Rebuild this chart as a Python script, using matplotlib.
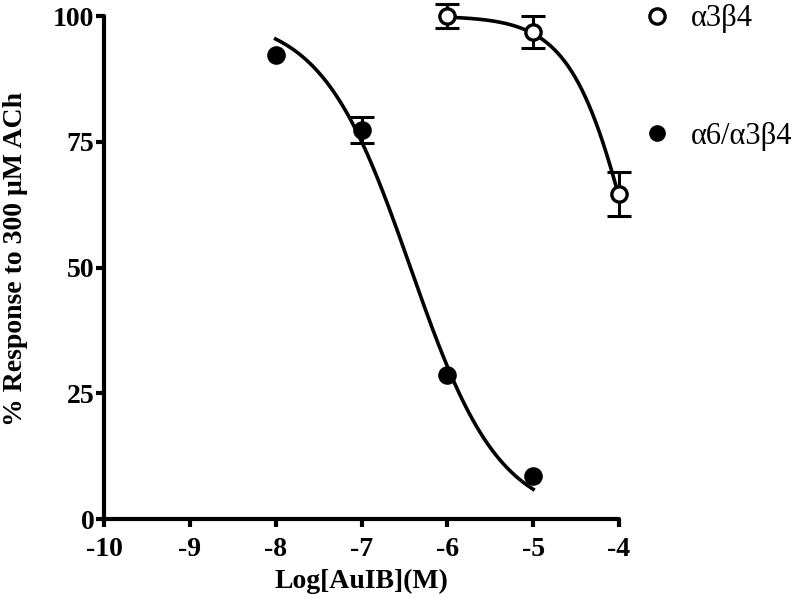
import numpy as np
import matplotlib
matplotlib.use("Agg")
from matplotlib import pyplot as plt
from matplotlib.lines import Line2D

# data
log_conc_a6 = [-8, -7, -6, -5]
resp_a6 = [92.2, 77.3, 28.6, 8.5]
err_a6 = [0.0, 2.6, 0.0, 0.0]

log_conc_a3 = [-6, -5, -4]
resp_a3 = [100.0, 96.8, 64.6]
err_a3 = [2.3, 3.2, 4.4]

# fitted curve parameters (top, bottom, logIC50, hill slope)
fit_a6 = (100.0, 0.0, -6.43, 0.84)
fit_a3 = (100.0, 0.0, -3.79, 1.19)

xticks = [-10, -9, -8, -7, -6, -5, -4]
yticks = [0, 25, 50, 75, 100]


def dose_response(x, top, bottom, logic50, hill):
  return bottom + (top - bottom) / (1 + 10 ** ((x - logic50) * hill))


def draw_points(ax, x, y, err, face):
  # error bars only where they are bigger than zero
  xe = [a for a, e in zip(x, err) if e > 0]
  ye = [b for b, e in zip(y, err) if e > 0]
  ee = [e for e in err if e > 0]
  bars = ax.errorbar(xe, ye, yerr=ee, fmt='none', ecolor='black',
                     capsize=8.5, elinewidth=2.2, capthick=2.2, zorder=3)
  for art in bars.lines[1] + bars.lines[2]:
    art.set_clip_on(False)
  ax.plot(x, y, ls='none', marker='o', color='black', markerfacecolor=face,
          markeredgewidth=2.4, markersize=11, zorder=4, clip_on=False)


plt.rcParams['font.family'] = ['Liberation Serif', 'DejaVu Serif']
plt.rcParams['axes.unicode_minus'] = False

fig = plt.figure(figsize=(7.97, 6.04), dpi=100)
ax = fig.add_axes([0.1305, 0.1407, 0.6462, 0.8328])

# fitted curves
xs = np.linspace(log_conc_a6[0], log_conc_a6[-1], 200)
ax.plot(xs, dose_response(xs, *fit_a6), color='black', lw=2.6, zorder=2)
xs = np.linspace(log_conc_a3[0], log_conc_a3[-1], 200)
ax.plot(xs, dose_response(xs, *fit_a3), color='black', lw=2.6, zorder=2,
        clip_on=False)

draw_points(ax, log_conc_a6, resp_a6, err_a6, 'black')
draw_points(ax, log_conc_a3, resp_a3, err_a3, 'white')

ax.set_xlim(-10, -4)
ax.set_ylim(0, 100)
ax.set_xticks(xticks)
ax.set_yticks(yticks)

for side in ['top', 'right']:
  ax.spines[side].set_visible(False)
for side in ['left', 'bottom']:
  ax.spines[side].set_linewidth(3)
  ax.spines[side].set_capstyle('round')
ax.tick_params(width=3, length=6, labelsize=20)
ax.tick_params(axis='y', pad=1)
ax.tick_params(axis='x', pad=7)
for lab in ax.get_xticklabels() + ax.get_yticklabels():
  lab.set_fontweight('bold')

ax.set_xlabel('Log[AuIB](M)', fontsize=20, fontweight='bold', va='center')
ax.set_ylabel('% Response to 300 \u03bcM ACh', fontsize=20, fontweight='bold', va='center')
ax.xaxis.set_label_coords(0.5, -0.125)
ax.yaxis.set_label_coords(-0.171, 0.517)

# legend at the top right
handles = [
  Line2D([], [], ls='none', marker='o', color='black', markerfacecolor='white',
         markeredgewidth=2.4, markersize=11),
  Line2D([], [], ls='none', marker='o', color='black', markersize=11),
]
fig.legend(handles, ['\u03b13\u03b24', '\u03b16/\u03b13\u03b24'], loc='upper left',
           bbox_to_anchor=(0.8055, 0.993), frameon=False, fontsize=22,
           borderpad=0, borderaxespad=0,
           handlelength=1.0, handletextpad=0.6, labelspacing=2.9)

fig.savefig('out.png', dpi=100)
